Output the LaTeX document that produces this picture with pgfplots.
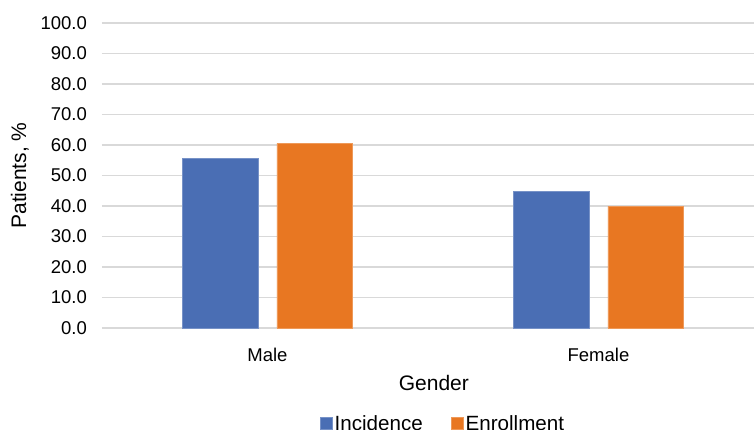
\documentclass[border=0pt]{standalone}
\usepackage{pgfplots}
\pgfplotsset{compat=1.18}
\usepackage{fontspec}
\setmainfont{Liberation Sans}
\definecolor{cblue}{HTML}{4A6EB4}
\definecolor{corange}{HTML}{E87722}
\definecolor{cgrid}{HTML}{D9D9D9}
\begin{document}
\begin{tikzpicture}[x=1pt,y=1pt]
\begin{axis}[
  at={(0,0)}, anchor=south west,
  scale only axis, width=652pt, height=305pt,
  ymin=0, ymax=100, ytick={0,10,...,100},
  xmin=-0.5, xmax=1.47,
  xtick={0,1}, xticklabels={Male,Female},
  ybar=19pt, bar width=75.6pt,
  axis line style={draw=none},
  ymajorgrids, major grid style={cgrid, line width=1.2pt},
  major tick length=0pt, tick style={draw=none},
  /pgf/number format/assume math mode=true,
  /pgf/number format/fixed, /pgf/number format/fixed zerofill, /pgf/number format/precision=1,
  yticklabel style={font=\fontsize{18.5}{20}\selectfont, inner sep=0pt, xshift=-15pt, anchor=east},
  xticklabel style={font=\fontsize{18.5}{20}\selectfont, inner sep=0pt, yshift=-20pt, anchor=north},
  xlabel={Gender},
  ylabel={Patients, \%},
  xlabel style={font=\fontsize{21}{23}\selectfont, at={(axis description cs:0.509,-0.1803)}, anchor=center},
  ylabel style={font=\fontsize{21}{23}\selectfont, at={(axis description cs:-0.1258,0.5)}, anchor=center},
  legend columns=2,
  legend style={at={(axis description cs:0.523,-0.313)}, anchor=center, draw=none, fill=none,
    font=\fontsize{20.6}{22}\selectfont,
    /tikz/every even column/.append style={column sep=26pt},
    nodes={inner sep=2pt}},
  legend image code/.code={\fill[#1] (0pt,-6pt) rectangle (12pt,6pt);},
]
\addplot[fill=cblue, draw=cblue!75!white, line width=0.8pt] coordinates {(0,55.6) (1,44.8)};
\addplot[fill=corange, draw=corange!75!white, line width=0.8pt] coordinates {(0,60.5) (1,39.9)};
\legend{Incidence, Enrollment}
\end{axis}
\pgfresetboundingbox
\path[use as bounding box] (-102,-101) rectangle (652,328);
\end{tikzpicture}
\end{document}
